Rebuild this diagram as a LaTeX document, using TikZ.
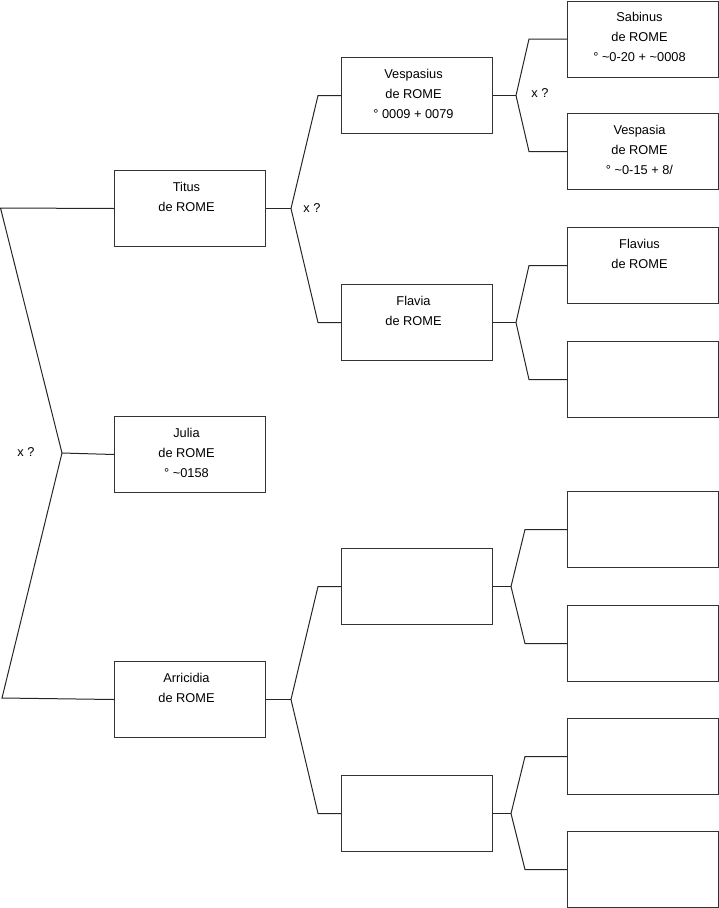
\documentclass[tikz,border=0pt]{standalone}
\usepackage{fontspec}
\setmainfont{Liberation Sans}
\begin{document}
\begin{tikzpicture}[x=1pt,y=-1pt,
 box/.style={draw=black!80, line width=1pt, minimum width=151pt, minimum height=76pt, inner sep=0pt, anchor=north west},
 txt/.style={anchor=north, align=center, inner sep=0pt, font=\fontsize{12.8}{20}\selectfont},
 conn/.style={draw=black!85, line width=1pt},
 lbl/.style={font=\fontsize{12.8}{15}\selectfont, inner sep=0pt}]
\useasboundingbox (0,0) rectangle (719,908);
% column 1
\node[box] (titus) at (114,170) {};
\node[box] (julia) at (114,416) {};
\node[box] (arric) at (114,661) {};
% column 2
\node[box] (vesp) at (341,57) {};
\node[box] (flavia) at (341,284) {};
\node[box] (eA) at (341,548) {};
\node[box] (eB) at (341,775) {};
% column 3
\node[box] (sab) at (567,0.5) {};
\node[box] (vespa) at (567,113) {};
\node[box] (flavius) at (567,227) {};
\node[box] (e1) at (567,341) {};
\node[box] (e2) at (567,491) {};
\node[box] (e3) at (567,605) {};
\node[box] (e4) at (567,718) {};
\node[box] (e5) at (567,831) {};
% texts
\node[txt] (titusT) at ([xshift=-3.5pt,yshift=-12.5pt]titus.north) {Titus\\de ROME};
\node[txt] (juliaT) at ([xshift=-3.5pt,yshift=-12.5pt]julia.north) {Julia\\de ROME\\° \textasciitilde0158};
\node[txt] (arricT) at ([xshift=-3.5pt,yshift=-12.5pt]arric.north) {Arricidia\\de ROME};
\node[txt] (vespT) at ([xshift=-3.5pt,yshift=-12.5pt]vesp.north) {Vespasius\\de ROME\\° 0009 + 0079};
\node[txt] (flaviaT) at ([xshift=-3.5pt,yshift=-12.5pt]flavia.north) {Flavia\\de ROME};
\node[txt] (sabT) at ([xshift=-3.5pt,yshift=-12pt]sab.north) {Sabinus\\de ROME\\° \textasciitilde0-20 + \textasciitilde0008};
\node[txt] (vespaT) at ([xshift=-3.5pt,yshift=-12.5pt]vespa.north) {Vespasia\\de ROME\\° \textasciitilde0-15 + 8/};
\node[txt] (flaviusT) at ([xshift=-3.5pt,yshift=-12.5pt]flavius.north) {Flavius\\de ROME};
% left fork
\coordinate (L1) at (0.5,208);
\coordinate (J0) at (62,453);
\coordinate (L2) at (2,698);
\draw[conn] (titus.west) -- (L1) -- (J0) -- (L2) -- (arric.west);
\draw[conn] (J0) -- (julia.west);
\node[lbl] (x0) at (26,452) {x ?};
% Titus fork
\draw[conn] (titus.east) -- ++(25,0) coordinate (J1);
\draw[conn] (vesp.west) -- ++(-23,0) -- (J1) -- ([xshift=-23pt]flavia.west) -- (flavia.west);
\node[lbl] (x1) at (312,208) {x ?};
% Vespasius fork
\draw[conn] (vesp.east) -- ++(23,0) coordinate (J2);
\draw[conn] (sab.west) -- ++(-38,0) -- (J2) -- ([xshift=-38pt]vespa.west) -- (vespa.west);
\node[lbl] (x2) at (540,93) {x ?};
% Flavia fork
\draw[conn] (flavia.east) -- ++(23,0) coordinate (J3);
\draw[conn] (flavius.west) -- ++(-38,0) -- (J3) -- ([xshift=-38pt]e1.west) -- (e1.west);
% Arricidia fork
\draw[conn] (arric.east) -- ++(25,0) coordinate (J4);
\draw[conn] (eA.west) -- ++(-23,0) -- (J4) -- ([xshift=-23pt]eB.west) -- (eB.west);
% eA fork
\draw[conn] (eA.east) -- ++(18,0) coordinate (J5);
\draw[conn] (e2.west) -- ++(-42,0) -- (J5) -- ([xshift=-42pt]e3.west) -- (e3.west);
% eB fork
\draw[conn] (eB.east) -- ++(18,0) coordinate (J6);
\draw[conn] (e4.west) -- ++(-42,0) -- (J6) -- ([xshift=-42pt]e5.west) -- (e5.west);
\end{tikzpicture}
\end{document}
